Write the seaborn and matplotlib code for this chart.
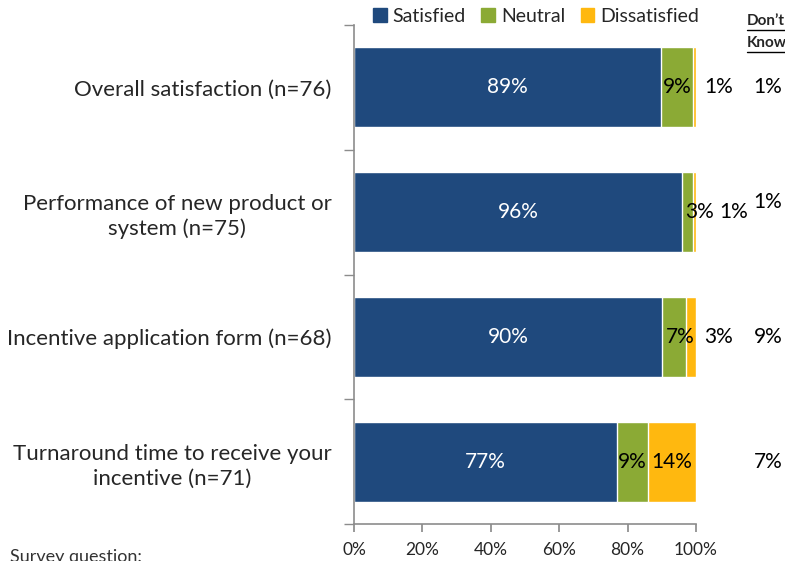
import matplotlib.pyplot as plt
import pandas as pd
import seaborn as sns
from matplotlib.patches import Patch

categories = [
    "Overall satisfaction (n=76)",
    "Performance of new product or\nsystem (n=75)",
    "Incentive application form (n=68)",
    "Turnaround time to receive your\nincentive (n=71)",
]
satisfied = [89, 96, 90, 77]
neutral = [9, 3, 7, 9]
dissatisfied = [1, 1, 3, 14]
dont_know = [1, 1, 9, 7]

colors = {"Satisfied": "#1F497D", "Neutral": "#8BAA35", "Dissatisfied": "#FFB80F"}

df = pd.DataFrame({
    "category": categories,
    "Satisfied": satisfied,
    "Neutral": neutral,
    "Dissatisfied": dissatisfied,
})
# bars are stacked to 100%
total = df[["Satisfied", "Neutral", "Dissatisfied"]].sum(axis=1)
df["s_pct"] = df["Satisfied"] / total * 100
df["n_pct"] = df["Neutral"] / total * 100
df["d_pct"] = df["Dissatisfied"] / total * 100
df["cum_sn"] = df["s_pct"] + df["n_pct"]
df["cum_all"] = df["cum_sn"] + df["d_pct"]

sns.set_theme(style="white")
plt.rcParams["font.family"] = ["Lato", "DejaVu Sans"]

fig = plt.figure(figsize=(7.85, 5.61), dpi=100)
ax = fig.add_axes([354 / 785, 1 - 524 / 561, 342 / 785, 499 / 561])

# draw from the longest stack down so segments overlay
sns.barplot(data=df, y="category", x="cum_all", color=colors["Dissatisfied"],
            orient="h", width=0.64, ax=ax, saturation=1)
sns.barplot(data=df, y="category", x="cum_sn", color=colors["Neutral"],
            orient="h", width=0.64, ax=ax, saturation=1)
sns.barplot(data=df, y="category", x="s_pct", color=colors["Satisfied"],
            orient="h", width=0.64, ax=ax, saturation=1)

ax.set_xlim(0, 100)
ax.set_ylim(3.5, -0.5)
ax.set_xlabel("")
ax.set_ylabel("")

# value labels
fs = 15
for i in range(len(categories)):
    s, n, d = df.loc[i, "s_pct"], df.loc[i, "n_pct"], df.loc[i, "d_pct"]
    ax.text(s / 2, i, f"{satisfied[i]}%", color="white", ha="center", va="center", fontsize=fs)
    nx = s + n / 2
    if n < 5:
        nx += 3.5
    elif n < 8:
        nx += 2
    ax.text(nx, i, f"{neutral[i]}%", color="black", ha="center", va="center", fontsize=fs)
    if d > 8:
        ax.text(s + n + d / 2, i, f"{dissatisfied[i]}%", color="black",
                ha="center", va="center", fontsize=fs)
    else:
        dx = 111 if n < 5 else 106.5
        ax.text(dx, i, f"{dissatisfied[i]}%", color="black",
                ha="center", va="center", fontsize=fs, clip_on=False)
    dy = -0.08 if i == 1 else 0
    ax.text(121, i + dy, f"{dont_know[i]}%", color="black",
            ha="center", va="center", fontsize=fs, clip_on=False)

# "Don't Know" column header, bold and underlined (runs off the right edge)
ax.text(114.8, -0.532, "Don\u2019t", fontsize=11, fontweight="bold", ha="left",
        va="center", clip_on=False)
ax.text(114.8, -0.356, "Know", fontsize=11, fontweight="bold", ha="left",
        va="center", clip_on=False)
ax.plot([114.8, 130], [-0.462, -0.462], color="black", lw=1.0, clip_on=False)
ax.plot([114.8, 130], [-0.286, -0.286], color="black", lw=1.0, clip_on=False)

# axes styling
for sp in ["top", "right"]:
    ax.spines[sp].set_visible(False)
for sp in ["left", "bottom"]:
    ax.spines[sp].set_color("#8C8C8C")
    ax.spines[sp].set_linewidth(1.2)

ax.set_xticks([0, 20, 40, 60, 80, 100])
ax.set_xticklabels(["0%", "20%", "40%", "60%", "80%", "100%"], fontsize=12.5)
ax.tick_params(axis="x", direction="out", length=6, color="#8C8C8C", pad=7, bottom=True)

ax.set_yticks(range(len(categories)))
ax.set_yticklabels(categories, fontsize=16)
ax.tick_params(axis="y", length=0, pad=16)
for lbl in ax.get_yticklabels():
    lbl.set_multialignment("center")
    lbl.set_linespacing(1.3)
ax.set_yticks([-0.5, 0.5, 1.5, 2.5, 3.5], minor=True)
ax.tick_params(axis="y", which="minor", direction="out", length=7, color="#8C8C8C", left=True)

handles = [Patch(color=c, label=k) for k, c in colors.items()]
fig.legend(handles=handles, loc="center", bbox_to_anchor=(536 / 785, 1 - 16 / 561),
           ncol=3, frameon=False, fontsize=14, handlelength=0.7, handleheight=0.7,
           handletextpad=0.3, columnspacing=0.8, borderaxespad=0)

fig.text(10 / 785, 1 - 557 / 561, "Survey question:", fontsize=13, va="center", color="#333333")

fig.savefig("out.png", dpi=100)
